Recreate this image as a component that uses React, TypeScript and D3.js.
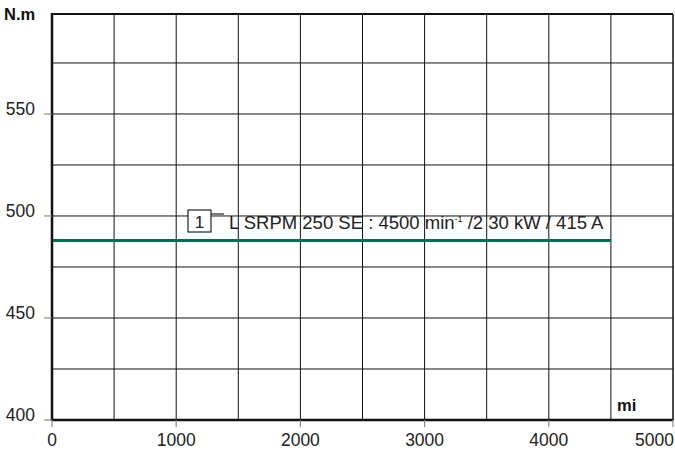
import React from "react";
import * as d3 from "d3";

const xTicks = [0, 1000, 2000, 3000, 4000, 5000];
const yTicks = [400, 450, 500, 550];
const xGrid = [500, 1000, 1500, 2000, 2500, 3000, 3500, 4000, 4500];
const yGrid = [425, 450, 475, 500, 525, 550, 575];
const seriesX = [0, 4500];
const seriesY = [488, 488];
const seriesLabel = "L SRPM 250 SE : 4500 min";
const seriesLabelRest = " /2 30 kW / 415 A";

export default function App() {
  const W = 675, H = 455;
  const left = 52, right = 673, top = 14, bottom = 420;
  const x = d3.scaleLinear().domain([0, 5000]).range([left, right]);
  const y = d3.scaleLinear().domain([400, 599]).range([bottom, top]);
  const line = d3.line<number>().x((_, i) => x(seriesX[i])).y((_, i) => y(seriesY[i]));
  const font = "Liberation Sans, Arial, sans-serif";
  return (
    <svg width={W} height={H} style={{ position: "absolute", left: 0, top: 0, background: "#fff" }} fontFamily={font}>
      {xGrid.map((v) => (
        <line key={"gx" + v} x1={x(v)} x2={x(v)} y1={top} y2={bottom} stroke="#111" strokeWidth={1} />
      ))}
      {yGrid.map((v) => (
        <line key={"gy" + v} x1={left} x2={right} y1={y(v)} y2={y(v)} stroke="#111" strokeWidth={1} />
      ))}
      <line x1={left} x2={right} y1={top} y2={top} stroke="#111" strokeWidth={2} />
      <line x1={right} x2={right} y1={top} y2={bottom} stroke="#111" strokeWidth={1.5} />
      <path d={line(seriesY) || ""} fill="none" stroke="#006e50" strokeWidth={3} />
      <line x1={left} x2={left} y1={top - 1} y2={bottom + 1} stroke="#111" strokeWidth={2.5} />
      <line x1={left - 1} x2={right} y1={bottom} y2={bottom} stroke="#111" strokeWidth={2.5} />
      {yTicks.map((v) => (
        <g key={"yt" + v}>
          <line x1={left - 8} x2={left} y1={y(v)} y2={y(v)} stroke="#888" strokeWidth={1.2} />
          <text x={35} y={y(v) + 1} textAnchor="end" fontSize={17.5} fill="#222">{v}</text>
        </g>
      ))}
      {xTicks.map((v, i) => {
        const last = i === xTicks.length - 1;
        return (
          <g key={"xt" + v}>
            <line x1={x(v)} x2={x(v)} y1={bottom} y2={bottom + 7} stroke="#888" strokeWidth={1.2} />
            <text x={last ? 674 : x(v)} y={446} textAnchor={last ? "end" : "middle"} fontSize={17.5} fill="#222">{v}</text>
          </g>
        );
      })}
      <text x={4} y={20} fontSize={16.5} fontWeight="bold" fill="#111">N.m</text>
      <text x={617} y={411} fontSize={16.5} fontWeight="bold" fill="#111">mi</text>
      <g>
        <rect x={188} y={210} width={23} height={22} fill="#fff" stroke="#222" strokeWidth={1.2} />
        <text x={199.5} y={228} textAnchor="middle" fontSize={17} fill="#222">1</text>
        <line x1={211} x2={224} y1={214} y2={214} stroke="#222" strokeWidth={1.2} />
        <text x={229} y={229} fontSize={18.5} fill="#222">
          {seriesLabel}
          <tspan dy={-7} fontSize={9}>-1</tspan>
          <tspan dy={7}>{seriesLabelRest}</tspan>
        </text>
      </g>
    </svg>
  );
}
